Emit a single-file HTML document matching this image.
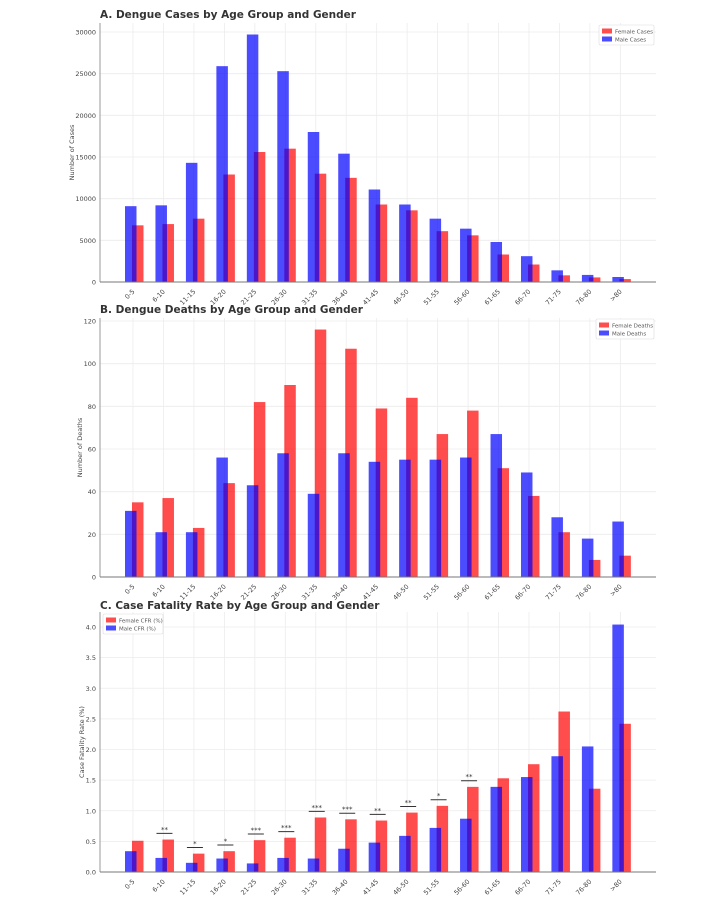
<!DOCTYPE html>
<html><head><meta charset="utf-8"><style>
body{margin:0;background:#fff;}
svg{display:block;font-family:"DejaVu Sans","Liberation Sans",sans-serif;}
</style></head><body>
<svg id="chart" width="704" height="910"></svg>
<script>
const categories=["0-5","6-10","11-15","16-20","21-25","26-30","31-35","36-40","41-45","46-50","51-55","56-60","61-65","66-70","71-75","76-80",">80"];
const maleCases=[9100,9200,14300,25900,29700,25300,18000,15400,11100,9300,7600,6400,4800,3100,1400,850,600];
const femaleCases=[6800,6950,7600,12900,15600,16000,13000,12500,9300,8600,6100,5600,3300,2100,800,550,350];
const maleDeaths=[31,21,21,56,43,58,39,58,54,55,55,56,67,49,28,18,26];
const femaleDeaths=[35,37,23,44,82,90,116,107,79,84,67,78,51,38,21,8,10];
const maleCFR=[0.34,0.23,0.15,0.22,0.14,0.23,0.22,0.38,0.48,0.59,0.72,0.87,1.39,1.55,1.89,2.05,4.04];
const femaleCFR=[0.51,0.53,0.30,0.34,0.52,0.56,0.89,0.86,0.84,0.97,1.08,1.39,1.53,1.76,2.62,1.36,2.42];
const sigIndex=[1,2,3,4,5,6,7,8,9,10,11];
const sigLabel=["**","*","*","***","***","***","***","**","**","*","**"];
const sigLevel=[0.63,0.40,0.44,0.62,0.66,0.99,0.96,0.94,1.07,1.18,1.49];
const ticksA=[0,5000,10000,15000,20000,25000,30000];
const ticksB=[0,20,40,60,80,100,120];
const ticksC=[0,0.5,1.0,1.5,2.0,2.5,3.0,3.5,4.0];

const NS="http://www.w3.org/2000/svg";
const svg=document.getElementById('chart');
function mk(tag,attrs,parent,name){const e=document.createElementNS(NS,tag);for(const k in attrs)e.setAttribute(k,attrs[k]);


(parent||svg).appendChild(e);return e;}

const L=100,R=656;
function xTick(i){return 133+i*30.46;}

function panel(cfg){
  const g=mk('g',{},svg,cfg.id);
  const y=v=>cfg.y0-(v/cfg.vmax)*(cfg.y0-cfg.ytop);
  // grid
  categories.forEach((c,i)=>{mk('line',{x1:xTick(i),x2:xTick(i),y1:cfg.gtop,y2:cfg.y0,stroke:'#ececec','stroke-width':0.8},g,'x-gridline');});
  cfg.ticks.forEach(t=>{
    mk('line',{x1:L,x2:R,y1:y(t),y2:y(t),stroke:'#ececec','stroke-width':0.8},g,'y-gridline');
    const tx=mk('text',{x:L-4,y:y(t)+2.5,'font-size':6.5,'text-anchor':'end',fill:'#444'},g,'y-tick-label');tx.textContent=cfg.fmt(t);
  });
  // bars: female first, male on top
  categories.forEach((c,i)=>{
    const xc=xTick(i);
    const fv=cfg.female[i],mv=cfg.male[i];
    mk('rect',{x:xc-1,y:y(fv),width:11.5,height:cfg.y0-y(fv),fill:'#ff0000','fill-opacity':0.7},g,'female-bar-'+c);
    mk('rect',{x:xc-8,y:y(mv),width:11.5,height:cfg.y0-y(mv),fill:'#0000ff','fill-opacity':0.7},g,'male-bar-'+c);
    const tl=mk('text',{x:xc+2,y:cfg.y0+10,'font-size':6.5,'text-anchor':'end',fill:'#444',transform:`rotate(-45 ${xc+2} ${cfg.y0+10})`},g,'x-tick-label');tl.textContent=c;
  });
  // axes
  mk('line',{x1:L,x2:L,y1:cfg.gtop,y2:cfg.y0,stroke:'#999','stroke-width':1},g,'y-axis-line');
  mk('line',{x1:L,x2:R,y1:cfg.y0,y2:cfg.y0,stroke:'#777','stroke-width':1},g,'x-axis-line');
  const tt=mk('text',{x:L,y:cfg.titleY,'font-size':10.5,'font-weight':'bold',fill:'#333'},g,'panel-title');tt.textContent=cfg.title;
  const ym=(cfg.gtop+cfg.y0)/2;
  const yt=mk('text',{x:cfg.ylx,y:ym,'font-size':6.5,'text-anchor':'middle',fill:'#444',transform:`rotate(-90 ${cfg.ylx} ${ym})`},g,'y-axis-title');yt.textContent=cfg.ylabel;
  // legend
  const lx=cfg.legX,ly=cfg.legY,lw=cfg.legW;
  const lg=mk('g',{},g,'legend');
  mk('rect',{x:lx,y:ly,width:lw,height:20,fill:'#fff',stroke:'#ddd','stroke-width':0.6,rx:1.5},lg,'legend-box');
  mk('rect',{x:lx+3,y:ly+3.5,width:10,height:5,fill:'#ff0000','fill-opacity':0.7},lg,'legend-swatch-female');
  mk('rect',{x:lx+3,y:ly+11.5,width:10,height:5,fill:'#0000ff','fill-opacity':0.7},lg,'legend-swatch-male');
  const t1=mk('text',{x:lx+16,y:ly+8.3,'font-size':5.5,fill:'#555'},lg,'legend-entry-female');t1.textContent=cfg.legF;
  const t2=mk('text',{x:lx+16,y:ly+16.3,'font-size':5.5,fill:'#555'},lg,'legend-entry-male');t2.textContent=cfg.legM;
  return {g,y};
}

panel({id:'panel-a-cases',male:maleCases,female:femaleCases,vmax:30000,y0:282,ytop:32,gtop:23,ticks:ticksA,fmt:t=>String(t),
  title:'A. Dengue Cases by Age Group and Gender',titleY:18,ylabel:'Number of Cases',ylx:74,legX:599,legY:25,legW:55,legF:'Female Cases',legM:'Male Cases'});
panel({id:'panel-b-deaths',male:maleDeaths,female:femaleDeaths,vmax:120,y0:577,ytop:321,gtop:318,ticks:ticksB,fmt:t=>String(t),
  title:'B. Dengue Deaths by Age Group and Gender',titleY:313,ylabel:'Number of Deaths',ylx:82,legX:596,legY:319,legW:58,legF:'Female Deaths',legM:'Male Deaths'});
const pc=panel({id:'panel-c-cfr',male:maleCFR,female:femaleCFR,vmax:4.0,y0:872,ytop:627,gtop:612,ticks:ticksC,fmt:t=>t.toFixed(1),
  title:'C. Case Fatality Rate by Age Group and Gender',titleY:609,ylabel:'Case Fatality Rate (%)',ylx:84,legX:103,legY:614,legW:60,legF:'Female CFR (%)',legM:'Male CFR (%)'});
sigIndex.forEach((ci,k)=>{
  const xc=xTick(ci)+1, yy=pc.y(sigLevel[k]);
  mk('line',{x1:xc-8,x2:xc+8,y1:yy,y2:yy,stroke:'#333','stroke-width':1},pc.g,'significance-bar');
  const s=mk('text',{x:xc,y:yy-1.5,'font-size':7,'text-anchor':'middle',fill:'#333'},pc.g,'significance-marker');s.textContent=sigLabel[k];
});
</script>
</body></html>
